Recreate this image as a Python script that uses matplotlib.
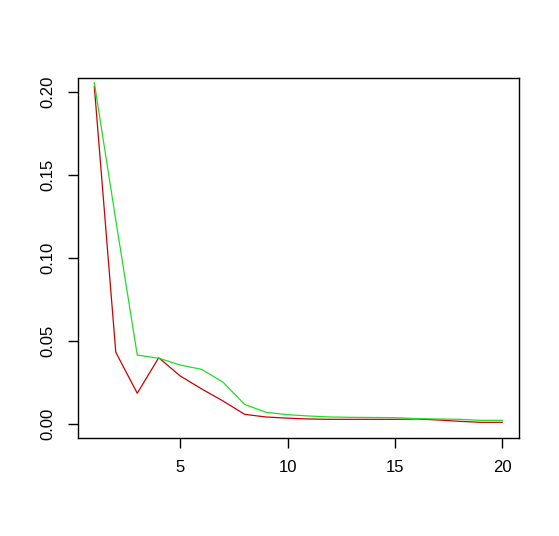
import matplotlib
matplotlib.use("Agg")
import matplotlib.pyplot as plt

# indices 1..20
idx = list(range(1, 21))
red_vals = [0.2034, 0.0434, 0.0187, 0.0401, 0.0291, 0.0213, 0.0140, 0.0060,
            0.0044, 0.0037, 0.0032, 0.0030, 0.0030, 0.0030, 0.0030, 0.0032,
            0.0026, 0.0018, 0.0012, 0.0012]
green_vals = [0.2058, 0.1230, 0.0417, 0.0398, 0.0357, 0.0331, 0.0253, 0.0120,
              0.0072, 0.0058, 0.0050, 0.0044, 0.0042, 0.0041, 0.0040, 0.0034,
              0.0032, 0.0030, 0.0024, 0.0024]
xticks = [5, 10, 15, 20]
yticks = [0.00, 0.05, 0.10, 0.15, 0.20]
ytick_labels = ["0.00", "0.05", "0.10", "0.15", "0.20"]

plt.rcParams["font.family"] = ["Liberation Sans", "DejaVu Sans"]

fig = plt.figure(figsize=(5.59, 5.36), dpi=100)
ax = fig.add_axes([78 / 559, 1 - 438 / 536, (518.6 - 78) / 559, (438 - 78.3) / 536])

ax.plot(idx, red_vals, color="#cc0000", linewidth=0.9)
ax.plot(idx, green_vals, color="#22dd22", linewidth=0.9)

ax.set_xlim(0.24, 20.76)
ax.set_ylim(-0.00825, 0.2084)
ax.set_xticks(xticks)
ax.set_xticklabels([str(t) for t in xticks])
ax.set_yticks(yticks)
ax.set_yticklabels(ytick_labels, rotation=90, va="center")

ax.tick_params(axis="both", length=7, width=1, labelsize=12, pad=9)
for sp in ax.spines.values():
    sp.set_linewidth(1)
    sp.set_color("black")

fig.savefig("out.png", dpi=100, facecolor="white")
